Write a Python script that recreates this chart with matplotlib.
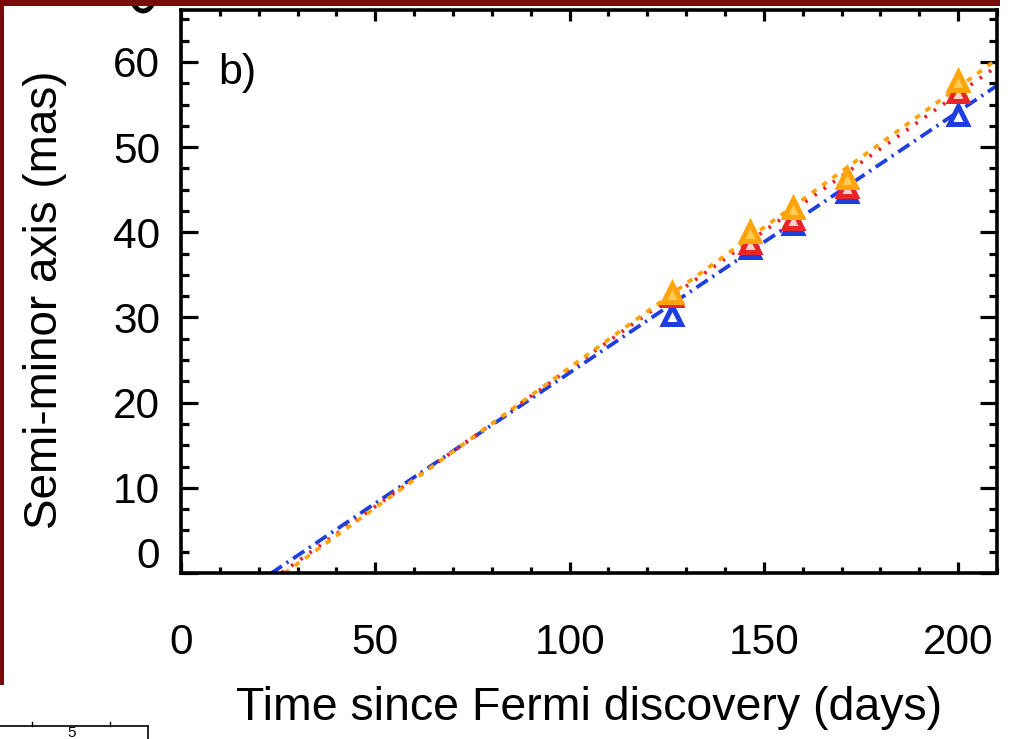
import numpy as np
import matplotlib
matplotlib.use("Agg")
import matplotlib.pyplot as plt
from matplotlib.lines import Line2D
from matplotlib.patches import Rectangle, Arc
from matplotlib.ticker import MultipleLocator

# Epochs (days since Fermi discovery) and semi-minor axis measurements (mas)
days = [126.3, 146.4, 157.5, 171.4, 200.0]
axis_blue = [30.3, 38.1, 41.0, 44.7, 53.8]
axis_red = [32.5, 38.7, 41.6, 45.3, 56.5]
axis_orange = [32.9, 40.0, 42.8, 46.4, 57.8]

# Linear expansion fits: slope (mas/day) and zero-size epoch (days)
fit_slope = {"blue": 0.3065, "red": 0.323, "orange": 0.329}
fit_t0 = {"blue": 23.3, "red": 25.8, "orange": 26.7}

x_ticks = [0, 50, 100, 150, 200]
y_ticks = [0, 10, 20, 30, 40, 50, 60]
panel_tag = "b)"
x_label = "Time since Fermi discovery (days)"
y_label = "Semi-minor axis (mas)"

W, H = 1030, 739
fig = plt.figure(figsize=(W / 100, H / 100), dpi=100)
plt.rcParams["font.family"] = ["Liberation Sans", "DejaVu Sans"]

ax = fig.add_axes([181 / W, 1 - 573 / H, (997 - 181) / W, (573 - 10) / H])
ax.set_xlim(0, 210)
ax.set_ylim(0, 66.1)

colors = {"blue": "#1f3ee0", "red": "#e8262a", "orange": "#ffa40a"}
faces = {"blue": "white", "red": "#fbd0d0", "orange": "#ffcc55"}
styles = {
    "blue": dict(dashes=(3.6, 1.5, 0.6, 1.5)),
    "red": dict(dashes=(0.7, 2.3)),
    "orange": dict(dashes=(1.5, 1.9)),
}

t = np.array([0.0, 210.0])
for key in ["blue", "red", "orange"]:
    ax.plot(t, fit_slope[key] * (t - fit_t0[key]), color=colors[key],
            lw=2.7, **styles[key], zorder=2)

for key, vals in [("blue", axis_blue), ("red", axis_red), ("orange", axis_orange)]:
    ax.plot(days, vals, linestyle="none", marker="^", markersize=12.5,
            markerfacecolor=faces[key], markeredgecolor=colors[key],
            markeredgewidth=3.6, zorder=3)

# Axes styling: ticks on all four sides, pointing inward
for sp in ax.spines.values():
    sp.set_linewidth(2.6)
ax.xaxis.set_major_locator(MultipleLocator(50))
ax.xaxis.set_minor_locator(MultipleLocator(10))
ax.yaxis.set_major_locator(MultipleLocator(10))
ax.yaxis.set_minor_locator(MultipleLocator(2.5))
ax.tick_params(axis="both", which="both", direction="in", top=True, right=True,
               width=2.3, labelsize=30.5)
ax.tick_params(axis="x", which="major", length=8, pad=36)
ax.tick_params(axis="x", which="minor", length=4)
ax.tick_params(axis="y", which="major", length=12, pad=15)
ax.tick_params(axis="y", which="minor", length=6)

ax.set_xticks(x_ticks)
ax.set_xticklabels([str(v) for v in x_ticks])
ax.set_yticks(y_ticks)
ax.set_yticklabels(["" if v == 0 else str(v) for v in y_ticks])
# the zero label sits a little above its tick
ax.annotate(str(y_ticks[0]), xy=(0, 0), xycoords=("axes fraction", "data"),
            xytext=(-21, 16), textcoords="offset pixels",
            ha="right", va="center", fontsize=30.5)

ax.set_xlabel(x_label, fontsize=33.5)
ax.xaxis.set_label_coords(0.5, -0.2)
ax.set_ylabel(y_label, fontsize=33)
ax.yaxis.set_label_coords(-0.167, 0.485)
ax.yaxis.label.set_va("center")

ax.text((218 - 181) / 816, (573 - 73) / 563, panel_tag, fontsize=31,
        ha="left", va="center", transform=ax.transAxes)

# Neighbouring panel fragments and page frame
fig.add_artist(Arc((143 / W, 1 + 4 / H), 22 / W, 30 / H, theta1=180, theta2=360,
                   transform=fig.transFigure, color="black", lw=3.5))
fig.add_artist(Line2D([0, 148 / W], [1 - 726 / H, 1 - 726 / H],
                      transform=fig.transFigure, color="black", lw=1.2))
fig.add_artist(Line2D([148 / W, 148 / W], [1 - 726 / H, 0],
                      transform=fig.transFigure, color="black", lw=1.2))
for xp in [32, 110]:
    fig.add_artist(Line2D([xp / W, xp / W], [1 - 726 / H, 1 - 722 / H],
                          transform=fig.transFigure, color="black", lw=1.0))
fig.text(72 / W, 1 - 733 / H, "5", fontsize=11, ha="center", va="center")

maroon = "#7d0a0a"
fig.add_artist(Rectangle((0, 1 - 6 / H), 1000 / W, 6 / H,
                         transform=fig.transFigure, color=maroon, lw=0, zorder=10))
fig.add_artist(Rectangle((0, 1 - 685 / H), 4 / W, 685 / H,
                         transform=fig.transFigure, color=maroon, lw=0, zorder=10))

fig.savefig("out.png", dpi=100)
